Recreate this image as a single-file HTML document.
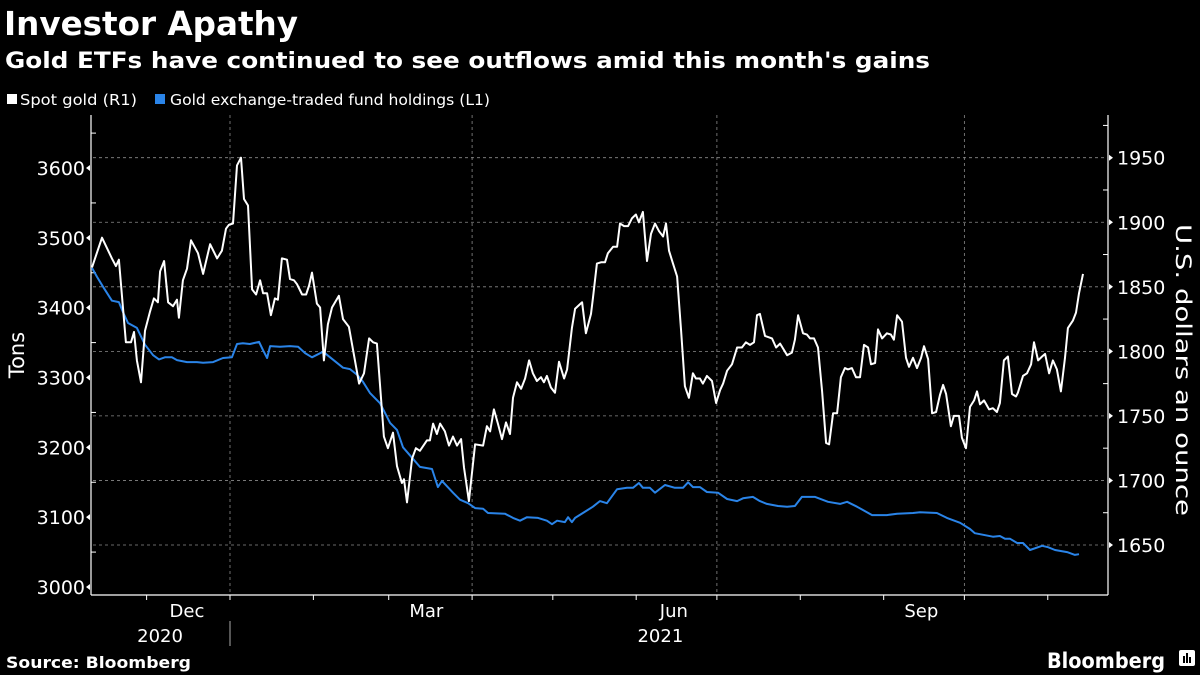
<!DOCTYPE html>
<html><head><meta charset="utf-8">
<style>
html,body{margin:0;padding:0;background:#000;}
svg{display:block;}
text{fill:#fff;}
</style></head>
<body>
<svg id="chart" width="1200" height="675" viewBox="0 0 1200 675" xmlns="http://www.w3.org/2000/svg">
<rect x="0" y="0" width="1200" height="675" fill="#000"/>
<text x="4" y="35" font-family="DejaVu Sans" font-weight="bold" font-size="33" textLength="294" lengthAdjust="spacingAndGlyphs">Investor Apathy</text>
<text x="5" y="68" font-family="DejaVu Sans" font-weight="bold" font-size="22" textLength="925" lengthAdjust="spacingAndGlyphs">Gold ETFs have continued to see outflows amid this month's gains</text>
<g>
<rect x="7" y="94" width="10" height="10" fill="#fff"/>
<text x="20" y="105" font-family="DejaVu Sans" font-size="15" textLength="117" lengthAdjust="spacingAndGlyphs">Spot gold (R1)</text>
<rect x="155" y="94" width="10" height="10" fill="#2a84e8"/>
<text x="170" y="105" font-family="DejaVu Sans" font-size="15" textLength="320" lengthAdjust="spacingAndGlyphs">Gold exchange-traded fund holdings (L1)</text>
</g>
<g id="grid"></g>
<g id="axes"></g>
<g id="series"></g>
<text transform="translate(24,355) rotate(-90)" text-anchor="middle" font-family="DejaVu Sans" font-size="21">Tons</text>
<text transform="translate(1176,370) rotate(90)" text-anchor="middle" font-family="DejaVu Sans" font-size="21" textLength="292" lengthAdjust="spacingAndGlyphs">U.S. dollars an ounce</text>
<text x="6" y="668" font-family="DejaVu Sans" font-weight="bold" font-size="16" textLength="185" lengthAdjust="spacingAndGlyphs">Source: Bloomberg</text>
<text x="1047" y="668" font-family="DejaVu Sans" font-weight="bold" font-size="21" textLength="118" lengthAdjust="spacingAndGlyphs">Bloomberg</text>
<g>
<rect x="1179" y="650" width="16" height="16" rx="2" fill="#fff"/>
<rect x="1183" y="656" width="2" height="7" fill="#000"/>
<rect x="1186" y="653" width="2" height="10" fill="#000"/>
<rect x="1189" y="657" width="2" height="6" fill="#000"/>
</g>
</svg>
<script>
// ---- data ----
// days since 2021-01-01
const goldDays = [-51.3,-47.6,-43.9,-42.4,-41.3,-38.7,-36.8,-35.7,-34.6,-33.1,-31.6,-29.7,-28.3,-26.8,-26.0,-24.5,-23.0,-21.2,-19.7,-19.0,-17.5,-16.0,-14.5,-11.9,-10.0,-7.4,-4.8,-3.0,-1.5,-0.4,1.1,2.6,4.1,5.2,6.7,8.2,9.7,11.2,12.3,13.8,15.2,16.7,17.8,19.3,21.2,22.3,23.8,24.9,26.8,28.3,29.4,30.5,32.3,33.5,34.9,36.4,37.9,40.5,42.0,44.2,48.0,49.8,51.7,53.2,54.6,57.2,58.7,60.6,62.1,63.9,64.7,65.8,67.7,69.1,70.6,73.2,74.3,75.5,76.9,78.1,79.9,81.4,82.9,84.4,85.9,87.0,88.8,91.1,94.1,95.5,96.7,98.1,99.6,101.1,102.6,104.1,105.2,106.7,108.2,109.7,111.2,112.6,114.1,115.6,116.7,117.8,119.3,120.8,122.3,124.2,125.3,127.1,128.3,130.9,132.3,134.2,134.9,136.4,137.9,139.4,140.5,142.4,143.9,145.0,146.5,148.0,149.4,150.9,152.0,153.5,155.0,156.5,158.0,159.5,161.0,162.1,163.2,164.7,166.2,167.7,169.1,170.6,172.1,173.2,174.7,175.8,177.3,179.2,180.7,182.2,183.3,184.8,186.6,188.5,190.3,191.8,193.3,194.8,195.9,197.0,198.9,201.5,203.0,204.5,207.1,208.9,210.0,211.2,213.0,214.5,215.6,217.1,218.6,220.1,221.6,222.7,224.2,225.7,227.1,228.6,229.7,231.2,232.7,234.2,235.7,237.2,238.3,239.8,240.9,242.4,244.2,245.7,246.8,248.0,249.8,251.3,252.4,253.9,255.4,256.9,258.0,259.5,261.0,262.5,263.9,265.1,266.2,268.0,269.1,271.0,272.1,273.6,275.1,276.6,277.7,278.8,280.3,282.2,283.6,285.1,286.2,287.7,289.2,290.7,292.2,292.9,294.8,296.3,297.8,298.9,300.4,301.9,303.0,304.5,305.9,307.4,308.9,310.4,311.5,313.4,314.5,315.6,317.1];
const goldPrice = [1865,1888,1872,1866,1871,1807,1807,1815,1793,1776,1816,1831,1841,1838,1862,1870,1838,1835,1840,1826,1855,1864,1886,1876,1860,1883,1872,1878,1895,1898,1899,1944,1950,1918,1913,1848,1844,1855,1845,1845,1828,1841,1840,1872,1871,1856,1855,1852,1844,1844,1851,1861,1837,1834,1793,1821,1834,1843,1825,1819,1775,1783,1810,1807,1806,1734,1725,1737,1711,1698,1701,1683,1717,1725,1723,1731,1731,1744,1736,1744,1738,1727,1734,1727,1732,1710,1684,1728,1727,1742,1738,1755,1744,1732,1745,1736,1764,1776,1771,1779,1793,1783,1777,1780,1776,1781,1772,1768,1792,1779,1786,1818,1833,1838,1814,1829,1841,1868,1869,1869,1876,1881,1881,1899,1897,1897,1903,1906,1900,1908,1870,1891,1899,1893,1889,1899,1878,1868,1858,1816,1773,1764,1783,1779,1779,1775,1781,1777,1760,1770,1775,1785,1790,1803,1803,1807,1805,1807,1828,1829,1812,1810,1803,1806,1797,1799,1809,1828,1814,1813,1810,1810,1803,1769,1729,1728,1752,1752,1780,1787,1786,1787,1780,1780,1805,1803,1790,1791,1817,1810,1814,1813,1809,1828,1823,1795,1788,1795,1787,1795,1804,1794,1752,1753,1766,1774,1767,1742,1750,1750,1733,1725,1757,1762,1769,1759,1762,1755,1756,1753,1760,1793,1796,1767,1765,1768,1781,1783,1790,1807,1793,1796,1798,1783,1793,1786,1769,1795,1818,1824,1830,1845,1860];
const etfDays = [-51.3,-49.4,-47.2,-43.9,-41.3,-39.8,-37.9,-34.6,-31.6,-28.6,-26.4,-24.2,-21.6,-19.7,-16.0,-12.3,-10.0,-6.3,-2.6,0.7,2.6,4.8,7.4,10.8,12.3,13.8,14.9,18.6,22.3,25.3,27.9,30.5,34.6,37.2,42.0,44.6,47.2,49.4,52.0,55.8,59.5,62.1,64.3,67.7,70.6,75.1,77.3,78.8,82.9,85.5,88.5,91.1,94.1,95.9,102.2,105.2,107.8,110.4,114.5,117.8,119.7,121.6,124.5,125.7,127.1,128.3,131.2,134.9,137.5,140.1,143.9,147.6,149.8,152.0,153.5,156.1,158.0,161.7,165.4,168.4,170.3,172.1,174.7,177.3,181.4,184.8,188.5,190.7,194.4,197.0,199.6,203.7,207.1,210.0,212.6,217.5,222.3,226.8,229.4,233.1,238.7,244.2,248.0,253.9,256.5,262.8,266.5,271.4,275.1,276.9,283.6,286.2,288.1,290.0,292.6,294.8,297.4,301.9,304.1,306.7,311.2,314.1,315.6];
const etfTons = [3457,3444,3430,3410,3408,3394,3378,3371,3347,3332,3326,3329,3329,3325,3322,3322,3321,3322,3328,3329,3348,3349,3348,3351,3339,3328,3345,3344,3345,3344,3335,3329,3337,3329,3314,3312,3304,3294,3278,3263,3235,3225,3200,3185,3172,3169,3143,3152,3135,3125,3120,3113,3112,3106,3105,3099,3095,3100,3099,3095,3090,3095,3093,3100,3093,3099,3106,3115,3123,3120,3140,3142,3142,3149,3142,3142,3135,3146,3142,3142,3150,3143,3143,3136,3135,3126,3123,3127,3129,3123,3119,3116,3115,3116,3129,3129,3122,3119,3122,3115,3103,3103,3105,3106,3107,3106,3099,3092,3083,3077,3072,3073,3069,3069,3063,3063,3053,3059,3057,3053,3050,3046,3047];
const leftTicks = [3000,3100,3200,3300,3400,3500,3600];
const rightTicks = [1650,1700,1750,1800,1850,1900,1950];
const monthStarts = [-31,0,31,59,90,120,151,181,212,243,273,304];
const monthLabels = ["Dec","Mar","Jun","Sep"];
const monthLabelDays = [-16,73,165,257];
const yearLabels = ["2020","2021"];
const yearLabelDays = [-26,160];

// ---- scales ----
const X0 = 91, X1 = 1108, Y0 = 595, YT = 115;
function xS(d){ return 230 + d*2.69; }
function yL(t){ return 587 - (t-3000)*0.6983; }
function yR(p){ return 545 - (p-1650)*1.291; }
const NS = "http://www.w3.org/2000/svg";
function mk(tag, attrs, parent){ const e=document.createElementNS(NS,tag); for(const k in attrs) e.setAttribute(k,attrs[k]); parent.appendChild(e); return e; }
const grid=document.getElementById('grid'), axes=document.getElementById('axes'), series=document.getElementById('series');

// gridlines (right axis values)
rightTicks.forEach(v=>{
  const l=mk('line',{x1:X0+2,x2:X1-2,y1:yR(v),y2:yR(v),stroke:'#8a8a8a','stroke-width':0.8,'stroke-dasharray':'3,3'},grid);
  
  
});
[0,90,181,273].forEach(d=>{
  const l=mk('line',{x1:xS(d),x2:xS(d),y1:YT,y2:Y0,stroke:'#8a8a8a','stroke-width':0.8,'stroke-dasharray':'3,3'},grid);
  
  
});

// axes lines
let a=mk('line',{x1:X0,x2:X0,y1:YT,y2:Y0,stroke:'#fff','stroke-width':1.2},axes);
 
a=mk('line',{x1:X1,x2:X1,y1:YT,y2:Y0,stroke:'#fff','stroke-width':1.2},axes);
 
a=mk('line',{x1:X0,x2:X1,y1:Y0,y2:Y0,stroke:'#fff','stroke-width':1.2},axes);
 

leftTicks.forEach(v=>{
  const y=yL(v);
  const t=mk('text',{x:X0-6,y:y+7,'text-anchor':'end','font-family':'DejaVu Sans','font-size':19},axes);
  t.textContent=v;
  
  
  mk('path',{d:`M${X0-1} ${y-3} L${X0-5} ${y} L${X0-1} ${y+3}Z`,fill:'#fff'},axes);
  const m=mk('line',{x1:X0,x2:X0+5,y1:yL(v+50),y2:yL(v+50),stroke:'#fff'},axes);
  
  
});
rightTicks.forEach(v=>{
  const y=yR(v);
  const t=mk('text',{x:X1+9,y:y+7,'font-family':'DejaVu Sans','font-size':19},axes);
  t.textContent=v;
  
  
  mk('path',{d:`M${X1+1} ${y-3} L${X1+5} ${y} L${X1+1} ${y+3}Z`,fill:'#fff'},axes);
  const m=mk('line',{x1:X1-5,x2:X1,y1:yR(v+25),y2:yR(v+25),stroke:'#fff'},axes);
  
  
});
monthStarts.forEach(d=>{
  const x=xS(d); if(x<X0||x>X1) return;
  const m=mk('line',{x1:x,x2:x,y1:Y0,y2:Y0+5,stroke:'#fff'},axes);
  
  
});
monthLabels.forEach((s,i)=>{
  const t=mk('text',{x:xS(monthLabelDays[i]),y:617,'text-anchor':'middle','font-family':'DejaVu Sans','font-size':18},axes);
  t.textContent=s;
  
  
});
yearLabels.forEach((s,i)=>{
  const t=mk('text',{x:xS(yearLabelDays[i]),y:642,'text-anchor':'middle','font-family':'DejaVu Sans','font-size':18},axes);
  t.textContent=s;
  
  
});
a=mk('line',{x1:xS(0),x2:xS(0),y1:621,y2:646,stroke:'#aaa','stroke-width':1},axes);
 

// series
let p=mk('polyline',{points:etfDays.map((d,i)=>xS(d).toFixed(1)+','+yL(etfTons[i]).toFixed(1)).join(' '),fill:'none',stroke:'#2a84e8','stroke-width':2,'stroke-linejoin':'round'},series);


p=mk('polyline',{points:goldDays.map((d,i)=>xS(d).toFixed(1)+','+yR(goldPrice[i]).toFixed(1)).join(' '),fill:'none',stroke:'#fff','stroke-width':2,'stroke-linejoin':'round'},series);


</script>
</body></html>
